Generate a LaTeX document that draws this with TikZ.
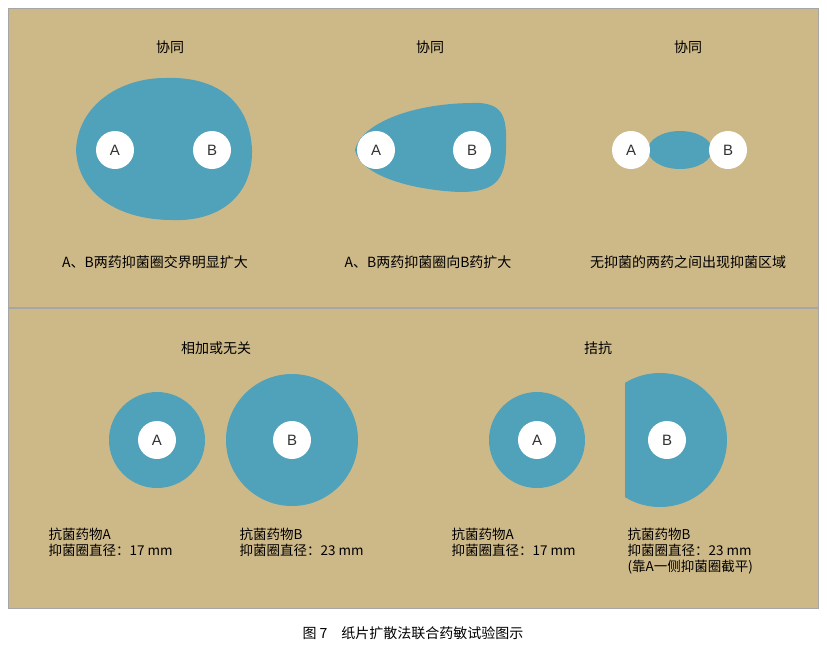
\documentclass[tikz,border=0pt]{standalone}
\usepackage{fontspec}
\setmainfont{Liberation Serif}
\newfontfamily\cjk{Noto Sans CJK SC}
\newfontfamily\lsans{Liberation Sans}
\definecolor{tan}{RGB}{205,184,136}
\definecolor{teal}{RGB}{79,162,186}
\begin{document}
\begin{tikzpicture}[x=1pt,y=-1pt,
  disk/.style={circle,fill=white,minimum size=38pt,inner sep=0pt,font=\lsans\fontsize{15}{15}\selectfont,text=black!80},
  ttl/.style={font=\cjk\fontsize{14}{14}\selectfont},
  lbl/.style={font=\cjk\fontsize{13.5}{16}\selectfont,align=left,anchor=north west}]
\useasboundingbox (0,0) rectangle (827,649);
\fill[white] (0,0) rectangle (827,649);
\draw[gray!70,fill=tan,line width=1pt] (8,8) rectangle (818,608);
\draw[gray!70,line width=1.5pt] (8,308) -- (818,308);
% top titles
\node[ttl] (t1) at (170,47) {协同};
\node[ttl] (t2) at (430,47) {协同};
\node[ttl] (t3) at (688,47) {协同};
% blob1
\fill[teal] (165,78) .. controls (215,76) and (250,100) .. (252,150)
  .. controls (253,195) and (220,222) .. (172,220)
  .. controls (120,220) and (78,195) .. (76,150)
  .. controls (78,105) and (120,78) .. (165,78) -- cycle;
\node[disk] (a1) at (115,150) {A};
\node[disk] (b1) at (212,150) {B};
% blob2
\fill[teal] (480,103) .. controls (505,105) and (507,120) .. (506,150)
  .. controls (505,180) and (495,192) .. (460,192)
  .. controls (410,190) and (360,175) .. (355,150)
  .. controls (360,125) and (410,102) .. (480,103) -- cycle;
\node[disk] (a2) at (376,150) {A};
\node[disk] (b2) at (472,150) {B};
% blob3
\fill[teal] (680,150) ellipse [x radius=32, y radius=19];
\node[disk] (a3) at (631,150) {A};
\node[disk] (b3) at (728,150) {B};
\node[ttl] (c1) at (155,262) {A、B两药抑菌圈交界明显扩大};
\node[ttl] (c2) at (428,262) {A、B两药抑菌圈向B药扩大};
\node[ttl] (c3) at (688,262) {无抑菌的两药之间出现抑菌区域};
% bottom
\node[ttl] (t4) at (216,348) {相加或无关};
\node[ttl] (t5) at (598,348) {拮抗};
\fill[teal] (157,440) circle (48);
\fill[teal] (292,440) circle (66);
\node[disk] (a4) at (157,440) {A};
\node[disk] (b4) at (292,440) {B};
\fill[teal] (537,440) circle (48);
\begin{scope}
\clip (625,360) rectangle (760,520);
\fill[teal] (660,440) circle (67);
\end{scope}
\node[disk] (a5) at (537,440) {A};
\node[disk] (b5) at (667,440) {B};
\node[lbl] (l1) at (45,524) {抗菌药物A\\抑菌圈直径：17 mm};
\node[lbl] (l2) at (236,524) {抗菌药物B\\抑菌圈直径：23 mm};
\node[lbl] (l3) at (448,524) {抗菌药物A\\抑菌圈直径：17 mm};
\node[lbl] (l4) at (624,524) {抗菌药物B\\抑菌圈直径：23 mm\\(靠A一侧抑菌圈截平)};
\node[font=\cjk\fontsize{14}{14}\selectfont] (cap) at (413,633) {图 7\quad 纸片扩散法联合药敏试验图示};
\end{tikzpicture}
\end{document}
